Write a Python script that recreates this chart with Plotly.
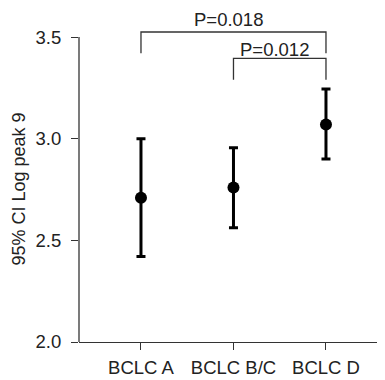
import plotly.graph_objects as go

categories = ["BCLC A", "BCLC B/C", "BCLC D"]
means = [2.71, 2.76, 3.07]
upper = [3.00, 2.955, 3.245]
lower = [2.42, 2.562, 2.90]

y_ticks = [2.0, 2.5, 3.0, 3.5]
y_ticklabels = ["2.0", "2.5", "3.0", "3.5"]

bracket_from = [0, 1]
bracket_to = [2, 2]
bracket_top = [3.525, 3.395]
bracket_bottom = [3.42, 3.29]
p_labels = ["P=0.018", "P=0.012"]
p_label_y = [3.586, 3.44]

y_title = "95% CI Log peak 9"

FONT = "Liberation Sans, Arial, Helvetica, sans-serif"
FS = 18.5
x_idx = list(range(len(categories)))

fig = go.Figure()
fig.add_trace(go.Scatter(
    x=x_idx, y=means, mode="markers",
    marker=dict(color="black", size=12),
    error_y=dict(type="data", symmetric=False,
                 array=[u - m for u, m in zip(upper, means)],
                 arrayminus=[m - l for m, l in zip(means, lower)],
                 color="black", thickness=3, width=4.5),
    showlegend=False, cliponaxis=False,
))

for f, t, top, bot, lab, ly in zip(bracket_from, bracket_to, bracket_top, bracket_bottom,
                                    p_labels, p_label_y):
    fig.add_trace(go.Scatter(
        x=[f, f, t, t], y=[bot, top, top, bot], mode="lines",
        line=dict(color="#333", width=1.3), showlegend=False, hoverinfo="skip",
    ))
    fig.add_annotation(x=(f + t) / 2, y=ly, xref="x", yref="y", text=lab,
                       showarrow=False, yanchor="middle", xshift=-5, borderpad=0,
                       font=dict(family=FONT, size=FS, color="#222"))

fig.add_annotation(x=0, xref="paper", y=(y_ticks[0] + y_ticks[-1]) / 2, yref="y",
                   text=y_title, textangle=-90, showarrow=False, borderpad=0,
                   xanchor="center", yanchor="middle", xshift=-60,
                   font=dict(family=FONT, size=18, color="#222"))

fig.add_shape(type="line", xref="paper", x0=0, x1=0, yref="y",
              y0=y_ticks[0], y1=y_ticks[-1], line=dict(color="#333", width=1.3))

fig.update_layout(
    width=377, height=372,
    margin=dict(l=71, r=0, t=0, b=38, pad=0),
    plot_bgcolor="white", paper_bgcolor="white",
    font=dict(family=FONT, size=FS, color="#222"),
    xaxis=dict(range=[-0.67, 2.638], tickvals=x_idx, ticktext=categories,
               showline=True, linecolor="#333", linewidth=1.3,
               ticks="outside", ticklen=7, tickwidth=1.3, tickcolor="#333",
               ticklabelstandoff=2,
               showgrid=False, zeroline=False, fixedrange=True),
    yaxis=dict(range=[2.0, 3.643], tickvals=y_ticks, ticktext=y_ticklabels,
               showline=False, ticks="outside", ticklen=7, tickwidth=1.3,
               tickcolor="#333", ticklabelstandoff=6,
               showgrid=False, zeroline=False, fixedrange=True),
)

fig.write_html("out.html")
